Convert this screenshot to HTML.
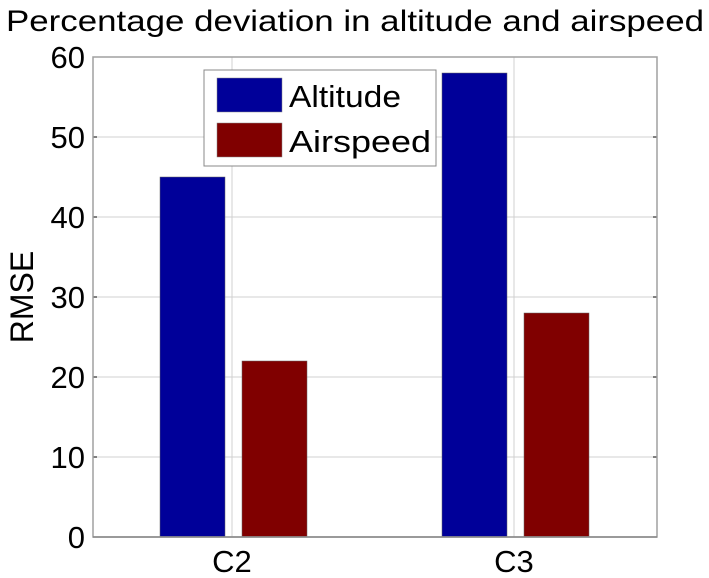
<!DOCTYPE html>
<html><head><meta charset="utf-8"><style>
body{margin:0;background:#fff;}
svg{display:block;font-family:"Liberation Sans",Arial,sans-serif;}
</style></head><body>
<svg id="c" width="709" height="578"></svg>
<script>
const categories=["C2","C3"];
const altitude=[45,58];
const airspeed=[22,28];
const yTicks=[0,10,20,30,40,50,60];
const seriesNames=["Altitude","Airspeed"];
const NS="http://www.w3.org/2000/svg";
const svg=document.getElementById('c');
const L=93,R=657,T=57,B=537;
const y=v=>B-(v-0)/(60-0)*(B-T);
const cx=[232,514];
function mk(t,a,p){const e=document.createElementNS(NS,t);for(const k in a)e.setAttribute(k,a[k]);(p||svg).appendChild(e);return e;}
mk('rect',{x:L,y:T,width:R-L,height:B-T,fill:'#fff'});
yTicks.forEach(v=>{
 const g=mk('line',{x1:L,x2:R,y1:y(v),y2:y(v),stroke:'#d0d0d0','stroke-width':1});
 
 
 const t=mk('text',{x:L-8,y:y(v)+11,'text-anchor':'end','font-size':31});
 t.textContent=v;
 
 
 mk('line',{x1:L,x2:L+4,y1:y(v),y2:y(v),stroke:'#000'});
 mk('line',{x1:R-4,x2:R,y1:y(v),y2:y(v),stroke:'#000'});
});
cx.forEach(x=>{mk('line',{x1:x,x2:x,y1:T,y2:B,stroke:'#d0d0d0'});});
const bw=65;
categories.forEach((c,i)=>{
 const b1=mk('rect',{x:cx[i]-72,y:y(altitude[i]),width:bw,height:B-y(altitude[i]),fill:'#000099',stroke:'#666','stroke-width':0.5});
 
 
 const b2=mk('rect',{x:cx[i]+10,y:y(airspeed[i]),width:bw,height:B-y(airspeed[i]),fill:'#800000',stroke:'#666','stroke-width':0.5});
 
 
 const t=mk('text',{x:cx[i],y:B+35,'text-anchor':'middle','font-size':31});
 t.textContent=c;
 
 
});
mk('rect',{x:L,y:T,width:R-L,height:B-T,fill:'none',stroke:'#a0a0a0','stroke-width':1.5});
mk('line',{x1:L,x2:R,y1:B,y2:B,stroke:'#888','stroke-width':1.5});
// legend
const lg=mk('g',{});


mk('rect',{x:204,y:70,width:232,height:96,fill:'#fff',stroke:'#888'},lg);
const cols=['#000099','#800000'];
const lw=[112,142];
seriesNames.forEach((n,i)=>{
 mk('rect',{x:217,y:78+i*45,width:65,height:34,fill:cols[i],stroke:'#888','stroke-width':0.5},lg);
 const t=mk('text',{x:289,y:107+i*45,'font-size':31,textLength:lw[i],lengthAdjust:'spacingAndGlyphs'},lg);
 t.textContent=n;
 
 
});
const ti=mk('text',{x:6,y:31,'font-size':30,textLength:698,lengthAdjust:'spacingAndGlyphs'});
ti.textContent='Percentage deviation in altitude and airspeed';


const yl=mk('text',{x:0,y:0,'text-anchor':'middle','font-size':32,transform:'translate(33,297) rotate(-90)'});
yl.textContent='RMSE';


</script>
</body></html>
